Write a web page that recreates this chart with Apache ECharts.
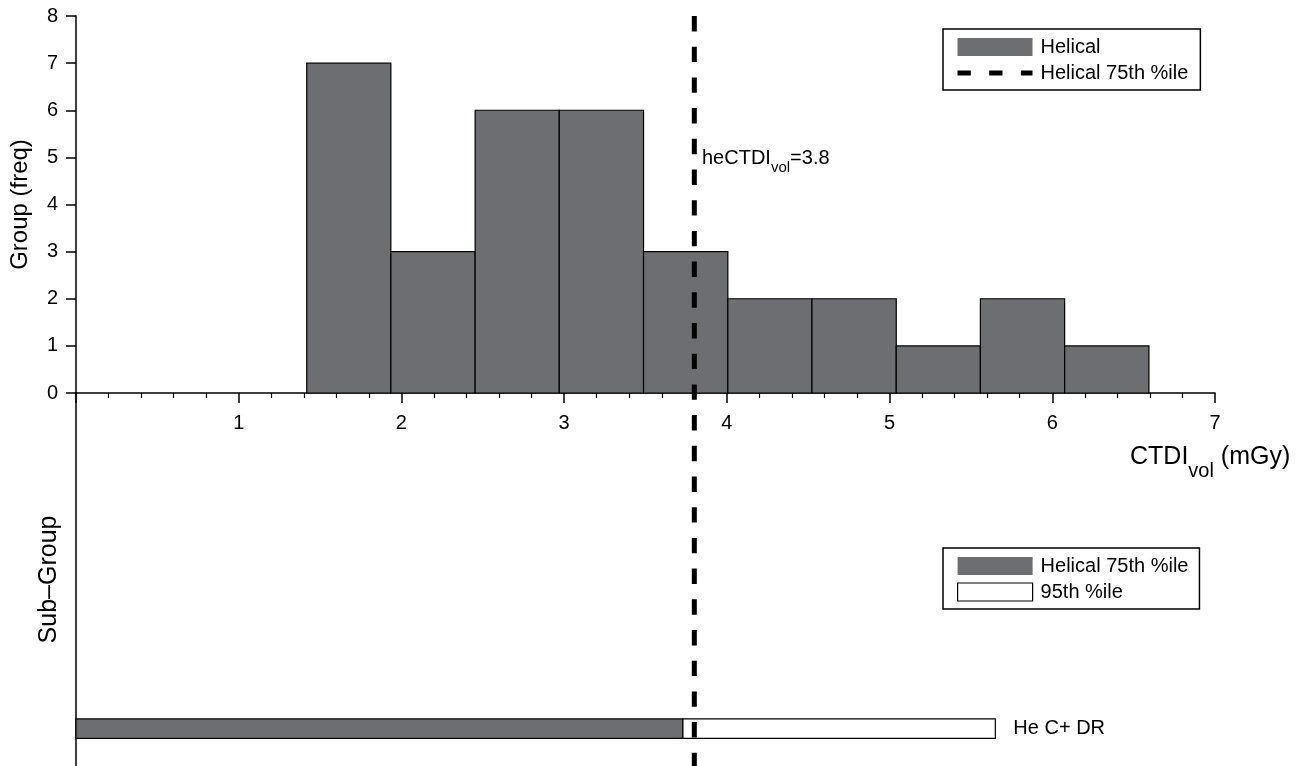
<!DOCTYPE html>
<html><head><meta charset="utf-8">
<script src="https://cdn.jsdelivr.net/npm/echarts@6/dist/echarts.min.js"></script>
<style>html,body{margin:0;padding:0;background:#fff}#c{width:1302px;height:766px}</style>
</head><body><div id="c"></div>
<script>
// ---- data ----
const binEdges = [1.418, 1.935, 2.453, 2.970, 3.488, 4.006, 4.523, 5.041, 5.558, 6.076, 6.594];
const binCounts = [7, 3, 6, 6, 3, 2, 2, 1, 2, 1];
const xTickLabels = ['', '1', '2', '3', '4', '5', '6', '7'];
const yTickLabels = ['0', '1', '2', '3', '4', '5', '6', '7', '8'];
const helical75 = 3.8;
const subGroups = ['He C+ DR'];
const sub75 = [3.73];
const sub95 = [5.65];

const FONT = "'Liberation Sans', Arial, Helvetica, sans-serif";
const DARK = '#6d6e71';
const chart = echarts.init(document.getElementById('c'), null, {renderer: 'canvas'});

const ctx = document.createElement('canvas').getContext('2d');
function tw(t, size) { ctx.font = size + 'px ' + FONT; return ctx.measureText(t).width; }

const histData = binCounts.map((c, i) => [binEdges[i], binEdges[i + 1], c]);
const subDark = subGroups.map((g, i) => [0, sub75[i], i + 1]);
const subWhite = subGroups.map((g, i) => [sub75[i], sub95[i], i + 1]);

function subRect(fill, withLabel) {
  return function (params, api) {
    const p0 = api.coord([api.value(0), api.value(2)]);
    const p1 = api.coord([api.value(1), api.value(2)]);
    const h = 19.5;
    const children = [{
      type: 'rect',
      shape: {x: p0[0], y: p0[1] - h / 2, width: p1[0] - p0[0], height: h},
      style: {fill: fill, stroke: '#000', lineWidth: 1.2}
    }];
    if (withLabel) {
      children.push({
        type: 'text',
        style: {x: p1[0] + 18, y: p0[1], text: subGroups[params.dataIndex],
          font: '20px ' + FONT, fill: '#000', verticalAlign: 'middle', align: 'left'}
      });
    }
    return {type: 'group', children: children};
  };
}

function subText(x, yMid, parts) {
  const els = [];
  let cx = x;
  parts.forEach(p => {
    els.push({type: 'text', x: cx, y: yMid + p[2],
      style: {text: p[0], font: p[1] + 'px ' + FONT, fill: '#000', verticalAlign: 'middle'}});
    cx += tw(p[0], p[1]);
  });
  return els;
}

const legendCommon = {
  orient: 'vertical', itemWidth: 75, itemHeight: 18, itemGap: 6, selectedMode: false,
  borderColor: '#000', borderWidth: 1.5, backgroundColor: '#fff',
  textStyle: {fontSize: 20, fontFamily: FONT, color: '#000', lineHeight: 18, padding: [0, 0, 0, 3]}
};

const option = {
  animation: false,
  backgroundColor: '#fff',
  grid: [
    {left: 76, top: 16, width: 1139, height: 377, outerBoundsMode: 'none', containLabel: false},
    {left: 76, top: 393, width: 1139, height: 373, outerBoundsMode: 'none', containLabel: false},
    {left: 76, top: 16, width: 1139, height: 750, outerBoundsMode: 'none', containLabel: false}
  ],
  xAxis: [
    {gridIndex: 0, type: 'value', min: 0, max: 7, interval: 1,
      axisLine: {show: true, onZero: false, lineStyle: {color: '#000', width: 1.5}},
      axisTick: {show: true, length: 10, lineStyle: {color: '#000', width: 1.5}},
      minorTick: {show: true, splitNumber: 5, length: 5, lineStyle: {color: '#000', width: 1.2}},
      splitLine: {show: false},
      axisLabel: {margin: 20, fontSize: 20, fontFamily: FONT, color: '#000',
        formatter: v => xTickLabels[Math.round(v)] || ''}},
    {gridIndex: 1, type: 'value', min: 0, max: 7, show: false},
    {gridIndex: 2, type: 'value', min: 0, max: 7, show: false}
  ],
  yAxis: [
    {gridIndex: 0, type: 'value', min: 0, max: 8, interval: 1,
      name: 'Group (freq)', nameLocation: 'middle', nameGap: 44, nameRotate: 90,
      nameMoveOverlap: false,
      nameTextStyle: {fontSize: 24, fontFamily: FONT, color: '#000'},
      axisLine: {show: true, lineStyle: {color: '#000', width: 1.5}},
      axisTick: {show: true, length: 10, lineStyle: {color: '#000', width: 1.5}},
      splitLine: {show: false},
      axisLabel: {margin: 18, fontSize: 20, fontFamily: FONT, color: '#000',
        formatter: v => yTickLabels[Math.round(v)]}},
    {gridIndex: 1, type: 'value', min: 0, max: 10,
      name: 'Sub\u2013Group', nameLocation: 'middle', nameGap: 14, nameRotate: 90,
      nameMoveOverlap: false,
      nameTextStyle: {fontSize: 25, fontFamily: FONT, color: '#000'},
      axisLine: {show: true, lineStyle: {color: '#000', width: 1.5}},
      axisTick: {show: false}, axisLabel: {show: false}, splitLine: {show: false}},
    {gridIndex: 2, type: 'value', min: 0, max: 1, show: false}
  ],
  legend: [
    Object.assign({}, legendCommon, {left: 943, top: 29, padding: [8, 12, 7, 12],
      data: [
        {name: 'Helical', icon: 'rect', itemStyle: {color: DARK, borderWidth: 0}},
        {name: 'Helical 75th %ile',
          itemStyle: {color: 'rgba(0,0,0,0)', borderWidth: 0, opacity: 0},
          lineStyle: {color: '#000', width: 5, type: [13.3, 18.4]}}
      ]}),
    Object.assign({}, legendCommon, {left: 943, top: 548, padding: [8, 11, 7, 14],
      formatter: n => n.trim(),
      data: [
        {name: 'Helical 75th %ile ', icon: 'rect', itemStyle: {color: DARK, borderWidth: 0}},
        {name: '95th %ile', icon: 'rect', itemStyle: {color: '#fff', borderColor: '#000', borderWidth: 1.2}}
      ]})
  ],
  series: [
    {name: 'Helical', type: 'custom', xAxisIndex: 0, yAxisIndex: 0,
      itemStyle: {color: DARK},
      encode: {x: [0, 1], y: 2},
      data: histData,
      renderItem: function (params, api) {
        const p0 = api.coord([api.value(0), 0]);
        const p1 = api.coord([api.value(1), api.value(2)]);
        return {type: 'rect',
          shape: {x: p0[0], y: p1[1], width: p1[0] - p0[0], height: p0[1] - p1[1]},
          style: {fill: DARK, stroke: '#000', lineWidth: 1.2}};
      }},
    {name: 'Helical 75th %ile ', type: 'custom', xAxisIndex: 1, yAxisIndex: 1,
      itemStyle: {color: DARK}, encode: {x: [0, 1], y: 2},
      data: subDark, renderItem: subRect(DARK, false)},
    {name: '95th %ile', type: 'custom', xAxisIndex: 1, yAxisIndex: 1,
      itemStyle: {color: '#fff'}, encode: {x: [0, 1], y: 2},
      data: subWhite, renderItem: subRect('#fff', true)},
    {name: 'Helical 75th %ile', type: 'line', xAxisIndex: 2, yAxisIndex: 2,
      symbol: 'none', z: 5,
      lineStyle: {color: '#000', width: 5, type: [15.4, 15.3]},
      itemStyle: {color: '#000'},
      data: [[helical75, 1], [helical75, 0]]}
  ],
  graphic: [
    {type: 'group', children: subText(1130, 457, [['CTDI', 25, 0], ['vol', 20, 14], [' (mGy)', 25, 0]])},
    {type: 'group', children: subText(702, 158, [['heCTDI', 20, 0], ['vol', 15, 10], ['=' + helical75, 20, 0]])}
  ]
};
chart.setOption(option);
</script></body></html>
